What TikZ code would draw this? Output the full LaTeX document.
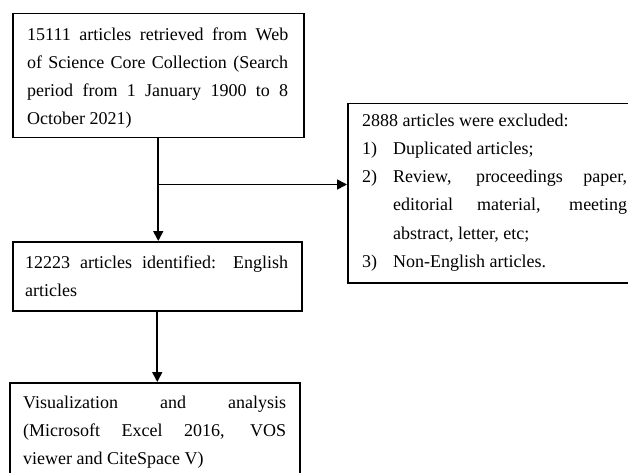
\documentclass[tikz,border=0pt]{standalone}
\usepackage{fontspec}
\setmainfont{Liberation Serif}
\usetikzlibrary{arrows.meta,calc}
\tolerance=10000
\hbadness=10000
\begin{document}
\begin{tikzpicture}[x=1pt,y=-1pt,
  box/.style={draw, line width=1.5pt, rectangle, inner sep=0pt, anchor=north west},
  txt/.style={inner sep=0pt, anchor=base west, align=justify, font=\fontsize{18}{28}\selectfont},
  arr/.style={line width=1.7pt, -{Triangle[length=10pt,width=10pt]}}]
\useasboundingbox (0,0) rectangle (628,473);
\clip (0,0) rectangle (628,473);
% boxes
\node[box, minimum width=291pt, minimum height=124pt] (b1) at (12,13) {};
\node[box, minimum width=289pt, minimum height=69pt] (b2) at (12,241) {};
\node[box, minimum width=290pt, minimum height=110pt] (b4) at (9,382) {};
\node[box, minimum width=300pt, minimum height=179pt] (b3) at (347,103) {};
% texts
\node[txt, text width=261pt] (t1) at (27,41) {15111 articles retrieved from Web\linebreak of Science Core Collection (Search\linebreak period from 1 January 1900 to 8\linebreak October 2021)};
\node[txt, text width=263pt] (t2) at (25,268) {12223 articles identified: English\linebreak articles};
\node[txt, text width=263pt] (t4) at (23,408) {Visualization and analysis\linebreak (Microsoft Excel 2016, VOS\linebreak viewer and CiteSpace V)};
\node[txt, text width=265pt] (t3) at (362,127) {\noindent 2888 articles were excluded:\par
\noindent\hangindent=31pt\makebox[31pt][l]{1)}Duplicated articles;\par
\noindent\hangindent=31pt\makebox[31pt][l]{2)}Review, proceedings paper,\linebreak editorial material, meeting\linebreak abstract, letter, etc;\par
\noindent\hangindent=31pt\makebox[31pt][l]{3)}Non-English articles.};
% connectors
\coordinate (br) at ($(b1.south)+(0,46)$);
\draw[arr] (b1.south) -- (b1.south |- b2.north);
\draw[arr] (br) -- (br -| b3.west);
\draw[arr] (b2.south) -- (b2.south |- b4.north);
\end{tikzpicture}
\end{document}
